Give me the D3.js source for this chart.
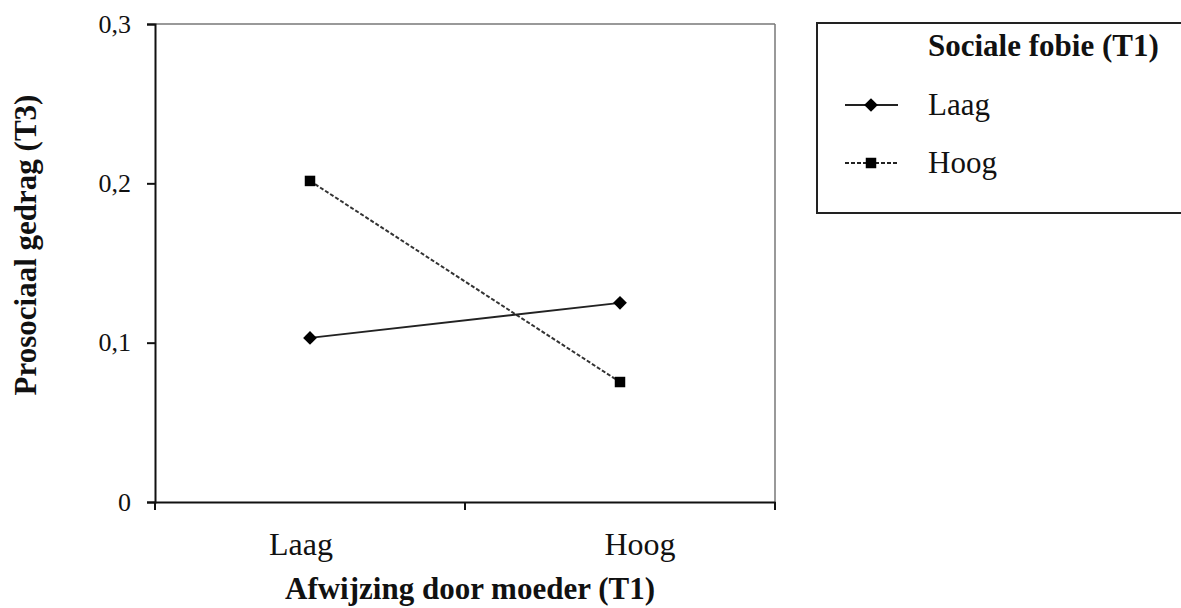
<!DOCTYPE html>
<html>
<head>
<meta charset="utf-8">
<script src="https://cdn.jsdelivr.net/npm/d3@7"></script>
<style>
  body { margin: 0; background: #fff; }
  text { font-family: "Liberation Serif", "Times New Roman", serif; fill: #111; }
</style>
</head>
<body>
<div id="chart"></div>
<script>
// data
var categories = ["Laag", "Hoog"];
var seriesNames = ["Laag", "Hoog"];
var laagValues = [0.103, 0.125];
var hoogValues = [0.2015, 0.0753];
var yTicks = [0, 0.1, 0.2, 0.3];

var width = 1181, height = 608;
var plotLeft = 155, plotRight = 775, plotTop = 24, plotBottom = 502;

var svg = d3.select("#chart").append("svg")
  .attr("width", width)
  .attr("height", height);

var xScale = d3.scaleBand().domain(categories).range([plotLeft, plotRight]);
var yScale = d3.scaleLinear().domain([0, 0.3]).range([plotBottom, plotTop]);

// top and right frame lines
svg.append("line").attr("x1", plotLeft).attr("x2", plotRight).attr("y1", plotTop).attr("y2", plotTop)
  .attr("stroke", "#777").attr("stroke-width", 1.5);
svg.append("line").attr("x1", plotRight).attr("x2", plotRight).attr("y1", plotTop).attr("y2", plotBottom)
  .attr("stroke", "#777").attr("stroke-width", 1.5);

// y axis
var yAxis = d3.axisLeft(yScale)
  .tickValues(yTicks)
  .tickSize(8)
  .tickPadding(16)
  .tickFormat(function(d) { return d === 0 ? "0" : d3.format(".1f")(d).replace(".", ","); });
var yG = svg.append("g").attr("transform", "translate(" + plotLeft + ",0)").call(yAxis);
yG.select(".domain").attr("stroke", "#111").attr("stroke-width", 2);
yG.selectAll(".tick line").attr("stroke", "#111").attr("stroke-width", 2);
yG.selectAll(".tick text").attr("font-size", 26).attr("font-family", "Liberation Serif").attr("fill", "#111");

// x axis: ticks on band edges, labels near centers (the original nudges them outward)
var xAxis = d3.axisBottom(xScale).tickSize(0).tickPadding(30);
var xG = svg.append("g").attr("transform", "translate(0," + plotBottom + ")").call(xAxis);
xG.select(".domain").attr("stroke", "#111").attr("stroke-width", 2);
xG.selectAll(".tick text")
  .attr("font-size", 32).attr("font-family", "Liberation Serif").attr("fill", "#111")
  .attr("dx", function(d, i) { return i === 0 ? -9 : 20; });
var edges = [plotLeft, xScale("Hoog"), plotRight];
xG.selectAll(".edge").data(edges).enter().append("line")
  .attr("x1", function(d) { return d; }).attr("x2", function(d) { return d; })
  .attr("y1", 0).attr("y2", 8)
  .attr("stroke", "#111").attr("stroke-width", 2);

// axis titles
svg.append("text")
  .attr("transform", "translate(36,245)rotate(-90)")
  .attr("text-anchor", "middle")
  .attr("font-size", 31).attr("font-weight", "bold")
  .text("Prosociaal gedrag (T3)");
svg.append("text")
  .attr("x", 470).attr("y", 599)
  .attr("text-anchor", "middle")
  .attr("font-size", 31).attr("font-weight", "bold")
  .text("Afwijzing door moeder (T1)");

var cx = function(i) { return xScale(categories[i]) + xScale.bandwidth() / 2; };
var line = d3.line().x(function(d, i) { return cx(i); }).y(function(d) { return yScale(d); });

// series lines
svg.append("path").datum(hoogValues).attr("d", line)
  .attr("fill", "none").attr("stroke", "#333").attr("stroke-width", 2)
  .attr("stroke-dasharray", "4,2");
svg.append("path").datum(laagValues).attr("d", line)
  .attr("fill", "none").attr("stroke", "#222").attr("stroke-width", 1.8);

var diamond = d3.symbol().type(d3.symbolDiamond2).size(120);
var square = d3.symbol().type(d3.symbolSquare).size(110);

svg.selectAll(".laagPt").data(laagValues).enter().append("path")
  .attr("d", diamond)
  .attr("transform", function(d, i) { return "translate(" + cx(i) + "," + yScale(d) + ")"; })
  .attr("fill", "#000");
svg.selectAll(".hoogPt").data(hoogValues).enter().append("path")
  .attr("d", square)
  .attr("transform", function(d, i) { return "translate(" + cx(i) + "," + yScale(d) + ")"; })
  .attr("fill", "#000");

// legend
var lg = svg.append("g");
lg.append("rect").attr("x", 817).attr("y", 23).attr("width", 380).attr("height", 190)
  .attr("fill", "#fff").attr("stroke", "#222").attr("stroke-width", 2);
lg.append("text").attr("x", 928).attr("y", 56)
  .attr("font-size", 31).attr("font-weight", "bold")
  .text("Sociale fobie (T1)");
var legendY = [105, 163];
seriesNames.forEach(function(name, i) {
  var y = legendY[i];
  lg.append("line").attr("x1", 845).attr("x2", 898).attr("y1", y).attr("y2", y)
    .attr("stroke", "#222").attr("stroke-width", i === 0 ? 1.8 : 2)
    .attr("stroke-dasharray", i === 0 ? null : "4,2");
  lg.append("path").attr("d", i === 0 ? diamond : square)
    .attr("transform", "translate(871," + y + ")").attr("fill", "#000");
  lg.append("text").attr("x", 928).attr("y", y + 10)
    .attr("font-size", 31)
    .text(name);
});
</script>
</body>
</html>
